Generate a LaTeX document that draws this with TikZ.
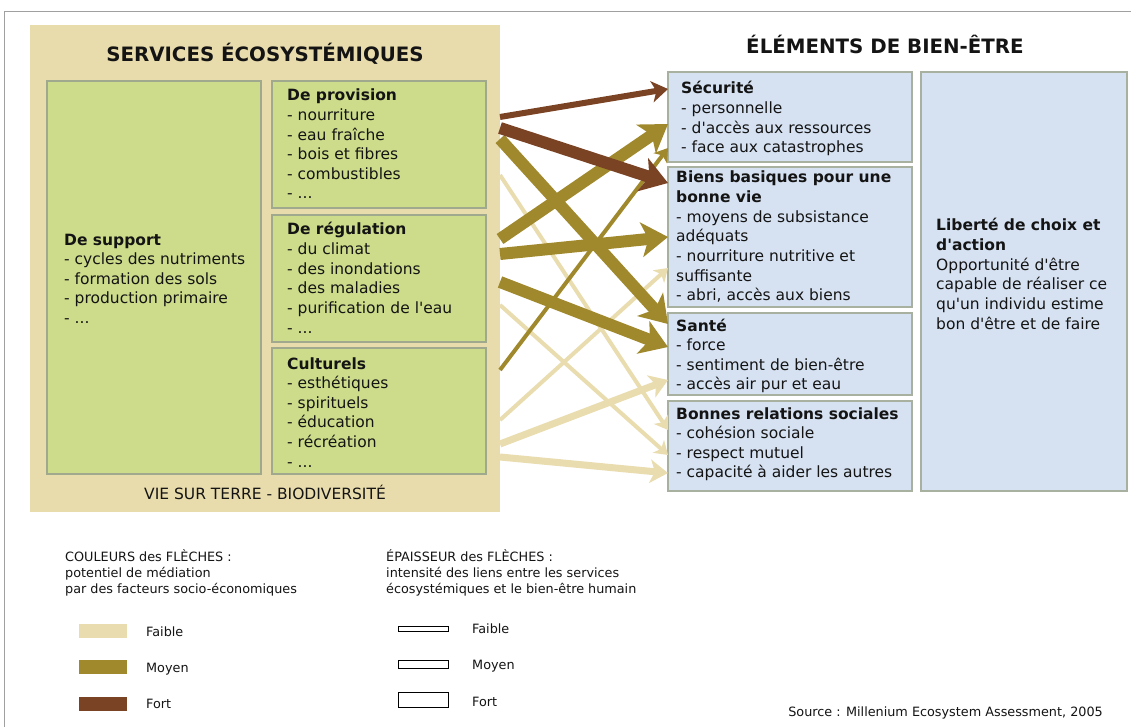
\documentclass[tikz,border=0pt]{standalone}
\usepackage{fontspec}
\setmainfont{DejaVu Sans}[Ligatures=TeXOff]
\usetikzlibrary{arrows.meta}
\definecolor{beigebg}{RGB}{233,220,172}
\definecolor{greenbox}{RGB}{205,220,138}
\definecolor{greenline}{RGB}{160,168,142}
\definecolor{bluebox}{RGB}{214,226,242}
\definecolor{blueline}{RGB}{168,176,160}
\definecolor{arrlight}{RGB}{233,220,175}
\definecolor{arrmid}{RGB}{160,137,44}
\definecolor{arrstrong}{RGB}{122,67,36}
\definecolor{txt}{RGB}{20,20,20}
\definecolor{framegrey}{RGB}{160,160,160}
\newcommand\dotz{...}
\newcommand\txtblock[4]{\foreach \l [count=\i from 0] in {#4}{\node[tline] (#1\i) at (#2,{#3+19.6*\i}) {\l};}}
\begin{document}
\begin{tikzpicture}[x=1pt,y=-1pt,
  box/.style={rectangle, inner sep=0pt, outer sep=0pt, anchor=north west, line width=1.3pt},
  gbox/.style={box, draw=greenline, fill=greenbox},
  bbox/.style={box, draw=blueline, fill=bluebox},
  tline/.style={anchor=base west, inner sep=0pt, font=\fontsize{15.5}{19.6}\selectfont, text=txt},
  small/.style={anchor=base west, inner sep=0pt, font=\fontsize{12.8}{16}\selectfont, text=txt},
  head/.style={anchor=base, inner sep=0pt, font=\fontsize{19.8}{24}\selectfont\bfseries, text=txt},
  arrw/.style={line width=#1, -{Stealth[length=6pt 1.7, width=8pt 2.2, inset=2pt 0.4]}},
  swatch/.style={rectangle, inner sep=0pt, anchor=north west, minimum width=48pt},
  thick/.style={rectangle, inner sep=0pt, anchor=north west, minimum width=50pt, draw=black, line width=1.3pt, fill=white}
]
\useasboundingbox (0,0) rectangle (1131,727);
\fill[white] (0,0) rectangle (1131,727);
\draw[framegrey, line width=1pt] (4,727) -- (4,12) -- (1131,12);

% left panel
\node[box, fill=beigebg, minimum width=470pt, minimum height=487pt] (eco) at (30,25) {};
\node[head] (ecot) at (265,62) {SERVICES ÉCOSYSTÉMIQUES};
\node[gbox, minimum width=214pt, minimum height=393pt] (sup) at (47,81) {};
\node[gbox, minimum width=214pt, minimum height=127pt] (prov) at (272,81) {};
\node[gbox, minimum width=214pt, minimum height=127pt] (reg) at (272,215) {};
\node[gbox, minimum width=214pt, minimum height=126pt] (cult) at (272,348) {};
\node[anchor=base, inner sep=0pt, font=\fontsize{15.5}{19.6}\selectfont, text=txt] (vie) at (265,499) {VIE SUR TERRE - BIODIVERSITÉ};

\txtblock{supt}{64}{245}{\textbf{De support}, - cycles des nutriments, - formation des sols, - production primaire, - \dotz}
\txtblock{provt}{287}{101}{\textbf{De provision}, - nourriture, - eau fraîche, - bois et fibres, - combustibles, - \dotz}
\txtblock{regt}{287}{235}{\textbf{De régulation}, - du climat, - des inondations, - des maladies, - purification de l'eau, - \dotz}
\txtblock{cultt}{287}{369}{\textbf{Culturels}, - esthétiques, - spirituels, - éducation, - récréation, - \dotz}

% right panel
\node[head] (bient) at (885,54) {ÉLÉMENTS DE BIEN-ÊTRE};
\node[bbox, minimum width=244pt, minimum height=90pt] (sec) at (668,72) {};
\node[bbox, minimum width=244pt, minimum height=140pt] (bien) at (668,167) {};
\node[bbox, minimum width=244pt, minimum height=82pt] (sante) at (668,313) {};
\node[bbox, minimum width=244pt, minimum height=90pt] (br) at (668,401) {};
\node[bbox, minimum width=206pt, minimum height=419pt] (lib) at (921,72) {};

\txtblock{sect}{681}{94}{\textbf{Sécurité}, - personnelle, - d'accès aux ressources, - face aux catastrophes}
\txtblock{bient}{676}{183}{\textbf{Biens basiques pour une}, \textbf{bonne vie}, - moyens de subsistance, adéquats, - nourriture nutritive et, suffisante, {- abri, accès aux biens}}
\txtblock{santet}{676}{331}{\textbf{Santé}, - force, - sentiment de bien-être, - accès air pur et eau}
\txtblock{brt}{676}{419}{\textbf{Bonnes relations sociales}, - cohésion sociale, - respect mutuel, - capacité à aider les autres}
\txtblock{libt}{936}{231}{\textbf{Liberté de choix et}, \textbf{d'action}, Opportunité d'être, capable de réaliser ce, qu'un individu estime, bon d'être et de faire}

% arrow end points
\coordinate (l1s) at (500,175); \coordinate (l1e) at (668,430);
\coordinate (l2s) at (500,305); \coordinate (l2e) at (668,455);
\coordinate (l3s) at (500,420); \coordinate (l3e) at (668,268);
\coordinate (l4s) at (500,444); \coordinate (l4e) at (668,380);
\coordinate (l5s) at (500,457); \coordinate (l5e) at (668,473);
\coordinate (o1s) at (500,139); \coordinate (o1e) at (668,324);
\coordinate (o2s) at (500,239); \coordinate (o2e) at (668,124);
\coordinate (o3s) at (500,254); \coordinate (o3e) at (668,237);
\coordinate (o4s) at (500,282); \coordinate (o4e) at (668,347);
\coordinate (o5s) at (500,370); \coordinate (o5e) at (668,148);
\coordinate (b1s) at (500,117); \coordinate (b1e) at (668,89);
\coordinate (b2s) at (500,128); \coordinate (b2e) at (668,183);

\draw[arrw=4pt, draw=arrlight] (l1s) -- (l1e);
\draw[arrw=4pt, draw=arrlight] (l2s) -- (l2e);
\draw[arrw=4pt, draw=arrlight] (l3s) -- (l3e);
\draw[arrw=7pt, draw=arrlight] (l4s) -- (l4e);
\draw[arrw=7pt, draw=arrlight] (l5s) -- (l5e);
\draw[arrw=12pt, draw=arrmid] (o1s) -- (o1e);
\draw[arrw=12pt, draw=arrmid] (o2s) -- (o2e);
\draw[arrw=12pt, draw=arrmid] (o3s) -- (o3e);
\draw[arrw=12pt, draw=arrmid] (o4s) -- (o4e);
\draw[arrw=4pt, draw=arrmid] (o5s) -- (o5e);
\draw[arrw=6pt, draw=arrstrong] (b1s) -- (b1e);
\draw[arrw=12pt, draw=arrstrong] (b2s) -- (b2e);

% legend colours
\node[small] (lc1) at (65,561) {COULEURS des FLÈCHES :};
\node[small] (lc2) at (65,577) {potentiel de médiation};
\node[small] (lc3) at (65,593) {par des facteurs socio-économiques};
\node[swatch, fill=arrlight, minimum height=14pt] (sw1) at (79,624) {};
\node[swatch, fill=arrmid, minimum height=14pt] (sw2) at (79,660) {};
\node[swatch, fill=arrstrong, minimum height=14pt] (sw3) at (79,697) {};
\node[small] (sl1) at (146,636) {Faible};
\node[small] (sl2) at (146,672) {Moyen};
\node[small] (sl3) at (146,708) {Fort};

% legend thickness
\node[small] (le1) at (386,561) {ÉPAISSEUR des FLÈCHES :};
\node[small] (le2) at (386,577) {intensité des liens entre les services};
\node[small] (le3) at (386,593) {écosystémiques et le bien-être humain};
\node[thick, minimum height=5pt] (th1) at (398,626) {};
\node[thick, minimum height=8pt] (th2) at (398,660) {};
\node[thick, minimum height=15pt] (th3) at (398,692) {};
\node[small] (tl1) at (472,633) {Faible};
\node[small] (tl2) at (472,669) {Moyen};
\node[small] (tl3) at (472,706) {Fort};

\node[anchor=base east, inner sep=0pt, font=\fontsize{12.8}{16}\selectfont, text=txt] (src) at (1103,716) {Source : Millenium Ecosystem Assessment, 2005};
\end{tikzpicture}
\end{document}
